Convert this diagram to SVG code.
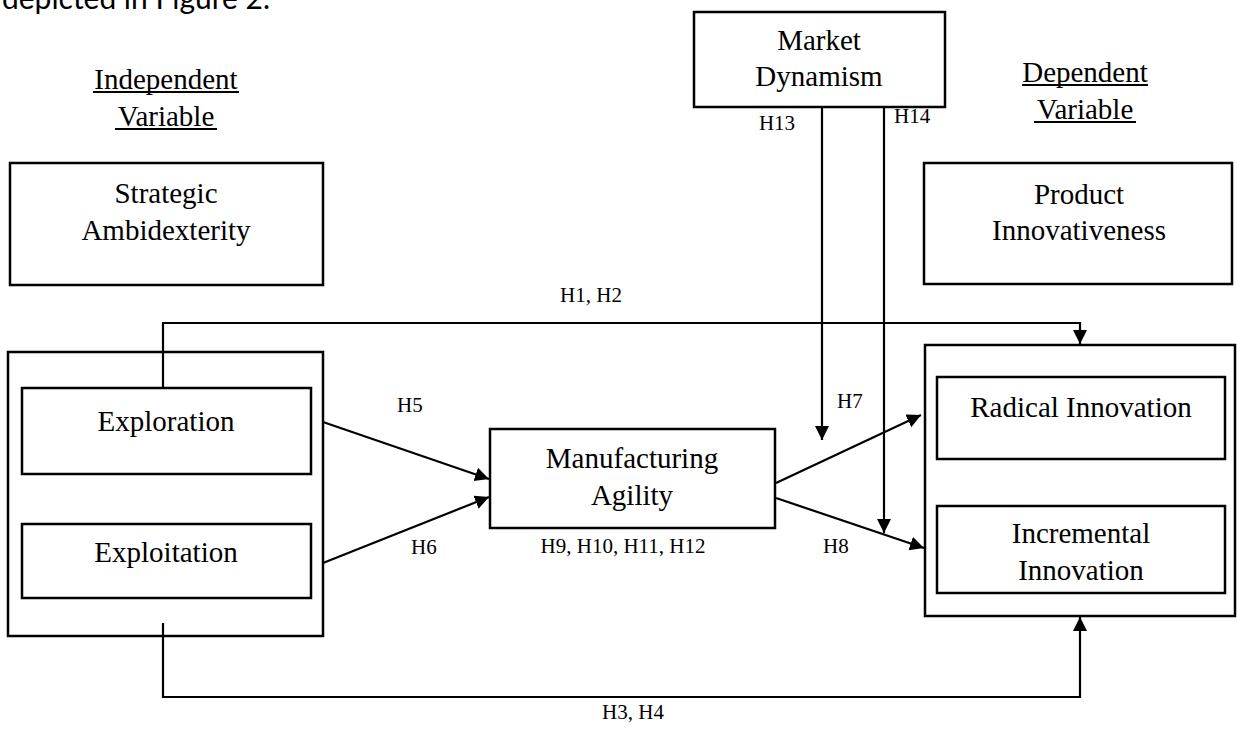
<svg xmlns="http://www.w3.org/2000/svg" width="1237" height="731" viewBox="0 0 1237 731">
  <style>
    .box { fill: #fff; stroke: #000; stroke-width: 2.5; }
    .t { font-family: "Liberation Serif", "Times New Roman", serif; font-size: 29px; fill: #000; text-anchor: middle; }
    .h { font-family: "Liberation Serif", "Times New Roman", serif; font-size: 21px; fill: #000; }
    .u { stroke: #000; stroke-width: 2; }
    .c { fill: none; stroke: #000; stroke-width: 2.2; }
  </style>
  <defs>
    <marker id="arrow" markerUnits="userSpaceOnUse" markerWidth="15" markerHeight="15" refX="14" refY="7" orient="auto">
      <path d="M0,0 L14,7 L0,14 z" fill="#000"/>
    </marker>
  </defs>
  <rect width="1237" height="731" fill="#fff"/>

  <!-- running text above the figure -->
  <text x="2" y="9" font-family="Lato, 'Open Sans', sans-serif" font-size="31" textLength="268" lengthAdjust="spacingAndGlyphs">depicted in Figure 2.</text>

  <!-- column headings -->
  <g id="independent-heading">
    <text class="t" x="166" y="89">Independent</text>
    <line class="u" x1="93" y1="92" x2="239" y2="92"/>
    <text class="t" x="166" y="126">Variable</text>
    <line class="u" x1="115" y1="129" x2="217" y2="129"/>
  </g>
  <g id="dependent-heading">
    <text class="t" x="1085" y="82">Dependent</text>
    <line class="u" x1="1022" y1="85" x2="1148" y2="85"/>
    <text class="t" x="1085" y="119">Variable</text>
    <line class="u" x1="1034" y1="122" x2="1136" y2="122"/>
  </g>

  <!-- construct boxes -->
  <g id="market-dynamism">
    <rect class="box" x="694" y="12" width="251" height="95"/>
    <text class="t" x="819" y="50">Market</text>
    <text class="t" x="819" y="86">Dynamism</text>
  </g>
  <g id="strategic-ambidexterity">
    <rect class="box" x="10" y="163" width="313" height="122"/>
    <text class="t" x="166" y="203">Strategic</text>
    <text class="t" x="166" y="240">Ambidexterity</text>
  </g>
  <g id="product-innovativeness">
    <rect class="box" x="924" y="163" width="308" height="121"/>
    <text class="t" x="1079" y="204">Product</text>
    <text class="t" x="1079" y="240">Innovativeness</text>
  </g>
  <g id="ambidexterity-group">
    <rect class="box" x="8" y="352" width="315" height="284"/>
  </g>
  <g id="exploration">
    <rect class="box" x="22" y="388" width="289" height="86"/>
    <text class="t" x="166" y="431">Exploration</text>
  </g>
  <g id="exploitation">
    <rect class="box" x="22" y="524" width="289" height="74"/>
    <text class="t" x="166" y="562">Exploitation</text>
  </g>
  <g id="manufacturing-agility">
    <rect class="box" x="490" y="429" width="285" height="99"/>
    <text class="t" x="632" y="468">Manufacturing</text>
    <text class="t" x="632" y="505">Agility</text>
  </g>
  <g id="innovation-group">
    <rect class="box" x="925" y="345" width="310" height="271"/>
  </g>
  <g id="radical-innovation">
    <rect class="box" x="937" y="377" width="288" height="82"/>
    <text class="t" x="1081" y="417">Radical Innovation</text>
  </g>
  <g id="incremental-innovation">
    <rect class="box" x="937" y="506" width="288" height="87"/>
    <text class="t" x="1081" y="543">Incremental</text>
    <text class="t" x="1081" y="580">Innovation</text>
  </g>

  <!-- hypothesised paths -->
  <g id="connectors">
    <path class="c" d="M163,388 V323 H1080 V344" marker-end="url(#arrow)"/>
    <path class="c" d="M163,623 V697 H1080 V617" marker-end="url(#arrow)"/>
    <path class="c" d="M822,107 V440" marker-end="url(#arrow)"/>
    <path class="c" d="M884,106 V533" marker-end="url(#arrow)"/>
    <path class="c" d="M323,422 L489,479" marker-end="url(#arrow)"/>
    <path class="c" d="M323,563 L489,497" marker-end="url(#arrow)"/>
    <path class="c" d="M776,483 L921,415" marker-end="url(#arrow)"/>
    <path class="c" d="M776,498 L924,548" marker-end="url(#arrow)"/>
  </g>

  <!-- hypothesis labels -->
  <g id="labels">
    <text class="h" x="591" y="302" text-anchor="middle">H1, H2</text>
    <text class="h" x="633" y="719" text-anchor="middle">H3, H4</text>
    <text class="h" x="397" y="412">H5</text>
    <text class="h" x="411" y="554">H6</text>
    <text class="h" x="837" y="408">H7</text>
    <text class="h" x="823" y="553">H8</text>
    <text class="h" x="623" y="553" text-anchor="middle">H9, H10, H11, H12</text>
    <text class="h" x="777" y="130" text-anchor="middle">H13</text>
    <text class="h" x="894" y="123">H14</text>
  </g>
</svg>
